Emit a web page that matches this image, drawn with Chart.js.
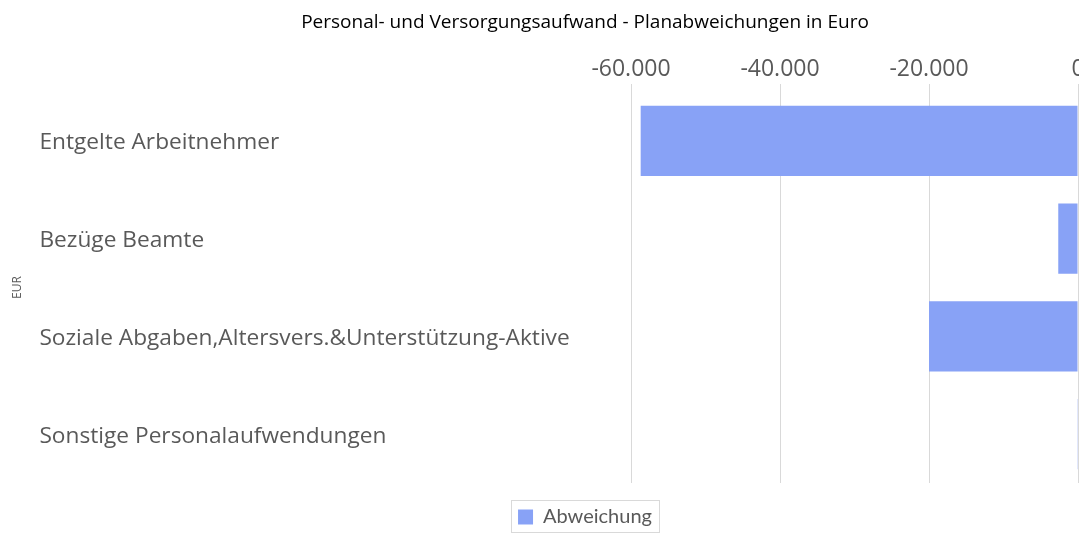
<!DOCTYPE html>
<html>
<head>
<meta charset="utf-8">
<script src="https://cdn.jsdelivr.net/npm/chart.js@4.4.1/dist/chart.umd.min.js"></script>
<style>
  html, body { margin: 0; padding: 0; background: #fff; overflow: hidden; }
  #wrap { width: 1079px; height: 533px; overflow: hidden; position: relative; }
  #box { width: 1170px; height: 533px; position: absolute; left: 0; top: 0; }
</style>
</head>
<body>
<div id="wrap"><div id="box"><canvas id="c"></canvas></div></div>
<script>
const categories = [
  'Entgelte Arbeitnehmer',
  'Bezüge Beamte',
  'Soziale Abgaben,Altersvers.&Unterstützung-Aktive',
  'Sonstige Personalaufwendungen'
];
const abweichung = [-58700, -2650, -20000, -100];
const xTicks = [-60000, -40000, -20000, 0];
const xMin = -60000;
const xMax = 11812;   // axis continues past the visible (cropped) right edge
const seriesName = 'Abweichung';
const chartTitle = 'Personal- und Versorgungsaufwand - Planabweichungen in Euro';
const axisTitle = 'EUR';

function fmt(v) {
  const neg = v < 0;
  const s = Math.abs(Math.round(v)).toString().replace(/\B(?=(\d{3})+(?!\d))/g, '.');
  return (neg ? '-' : '') + s;
}

const legendBorder = {
  id: 'legendBorder',
  afterDraw(chart) {
    const lg = chart.legend;
    if (!lg || !lg.legendHitBoxes || !lg.legendHitBoxes.length) return;
    const hb = lg.legendHitBoxes[0];
    const ctx = chart.ctx;
    const cy = hb.top + hb.height / 2;
    ctx.save();
    ctx.strokeStyle = '#d9d9d9';
    ctx.lineWidth = 1;
    ctx.strokeRect(Math.round(hb.left - 7) + 0.5, Math.round(cy - 17) + 0.5, Math.round(hb.width + 14), 32);
    ctx.restore();
  }
};

const CHART_LEFT = 631;

new Chart(document.getElementById('c'), {
  type: 'bar',
  data: {
    labels: categories,
    datasets: [{
      label: seriesName,
      data: abweichung,
      backgroundColor: '#88a2f6',
      borderWidth: 0,
      categoryPercentage: 0.8,
      barPercentage: 0.9
    }]
  },
  options: {
    indexAxis: 'y',
    responsive: true,
    maintainAspectRatio: false,
    animation: false,
    layout: { padding: { left: 4, right: 4, top: 0, bottom: -4 } },
    plugins: {
      title: {
        display: true,
        text: chartTitle,
        color: '#000',
        font: { family: 'Open Sans', size: 19, weight: 'normal' },
        padding: { top: 11, bottom: 20.6 }
      },
      legend: {
        position: 'bottom',
        labels: {
          color: '#595959',
          font: { family: 'Lato', size: 20 },
          boxWidth: 15,
          boxHeight: 15,
          padding: 24
        }
      },
      tooltip: { enabled: false }
    },
    scales: {
      x: {
        position: 'top',
        min: xMin,
        max: xMax,
        afterBuildTicks(scale) { scale.ticks = xTicks.map(v => ({ value: v })); },
        ticks: {
          color: '#595959',
          font: { family: 'Open Sans', size: 23 },
          padding: 1,
          maxRotation: 0,
          autoSkip: false,
          callback: (v) => fmt(v)
        },
        grid: { color: '#d9d9d9', tickLength: 8 },
        border: { display: false }
      },
      y: {
        position: 'left',
        weight: 0,
        ticks: {
          color: '#595959',
          font: { family: 'Open Sans', size: 22.7 },
          crossAlign: 'far',
          labelOffset: 2
        },
        grid: { display: false },
        border: { display: false },
        afterFit(scale) { scale.width = CHART_LEFT - 4 - 35.4; }
      },
      yt: {
        type: 'linear',
        position: 'left',
        weight: 1,
        ticks: { display: false },
        grid: { display: false },
        border: { display: false },
        title: {
          display: true,
          text: axisTitle,
          color: '#595959',
          font: { family: 'Open Sans', size: 12 },
          padding: { top: 6, bottom: 7 }
        }
      }
    }
  },
  plugins: [legendBorder]
});
</script>
</body>
</html>
